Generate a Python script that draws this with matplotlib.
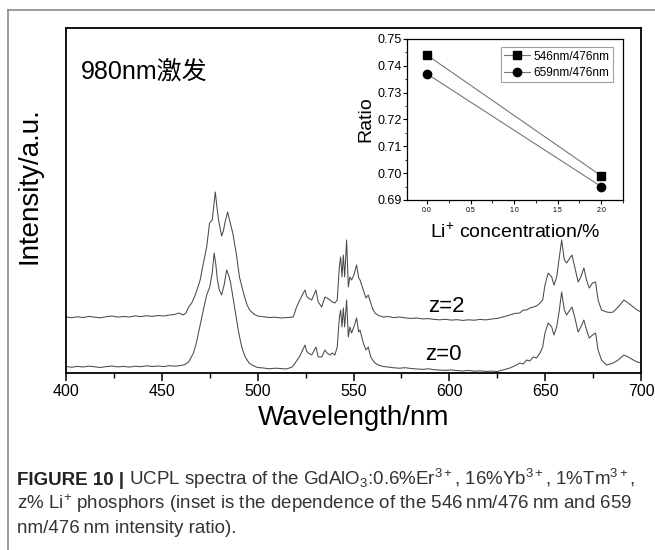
import numpy as np
import matplotlib
matplotlib.use("Agg")
import matplotlib.pyplot as plt
from matplotlib.lines import Line2D
from matplotlib.ticker import MultipleLocator, FormatStrFormatter

plt.rcParams['font.family'] = ['Liberation Sans', 'Noto Sans CJK SC', 'DejaVu Sans']
plt.rcParams['mathtext.fontset'] = 'custom'
plt.rcParams['mathtext.rm'] = 'Liberation Sans'
plt.rcParams['mathtext.it'] = 'Liberation Sans:italic'
plt.rcParams['mathtext.bf'] = 'Liberation Sans:bold'

# UCPL spectrum, z=0 (wavelength in nm, intensity in a.u.)
wl_z0 = [400, 403, 406, 409, 412, 415, 418, 421, 424, 427, 430, 433, 436, 439, 442, 445, 448,
         451, 454, 457, 460, 462, 464, 466.5, 468, 470, 472, 473.4, 475, 476.3, 477.3, 478.2,
         479, 480, 481.2, 482.5, 483.8, 485, 485.9, 487.6, 489.7, 491, 492, 493.5, 495.5,
         497.5, 500, 503, 506, 509, 512, 515, 518, 520.3, 522, 523, 524.7, 525.5, 526.4,
         528.2, 529.3, 530.4, 531.6, 533.4, 535.1, 536.2, 537.7, 539, 540.3, 541.5, 542.6,
         543.3, 544, 544.7, 545.4, 546.4, 547.3, 548.1, 549, 550.2, 551.6, 552.7, 553.4,
         554.3, 555.1, 556.5, 557.7, 559, 560, 561.2, 563, 565.5, 568, 571, 574, 577, 580,
         583, 586, 589, 592, 595, 598, 601, 604, 607, 610, 613, 616, 619, 622, 625, 628,
         631.6, 634, 636.8, 638.5, 640.3, 642, 643.8, 645.5, 647.3, 648.7, 649.9, 651.6,
         653.4, 654.6, 656, 657.4, 658.6, 660, 661.2, 662.9, 664, 665.4, 667.2, 668.6,
         670.2, 671.6, 673, 674.7, 676.3, 677.6, 679.4, 682, 684, 685.5, 688.1, 691.1,
         693.3, 696, 698, 700]
int_z0 = [6.5, 5.8, 6.6, 6.0, 6.9, 6.2, 5.5, 6.4, 7.0, 6.1, 6.6, 5.9, 6.8, 6.3, 7.2, 6.5, 7.0,
          6.4, 7.3, 6.8, 7.5, 8.5, 11, 20, 30, 48, 66, 78, 86, 100, 120, 108,
          93, 83, 78, 88, 103, 97, 90, 70, 45, 32, 24, 16, 10,
          7.5, 5.5, 5.0, 4.2, 4.8, 4.5, 4.0, 6, 12, 17, 21, 28, 22, 20,
          18, 22, 26, 16, 16, 23, 20, 18, 20, 18, 26, 55,
          63, 46, 65, 46, 73, 36, 46, 40, 46, 55, 41, 43,
          36, 30, 23, 26, 16, 13, 10, 8, 6.5, 6.0, 5.2, 4.8, 5.3, 4.5,
          4.0, 3.6, 4.2, 3.3, 3.0, 2.6, 3.1, 2.4, 2.0, 2.6, 1.8, 2.2, 1.6, 1.9, 1.5, 3.0,
          5, 7, 10, 9, 13, 12, 16, 15, 20, 26, 40, 50,
          46, 38, 46, 63, 81, 63, 58, 63, 66, 56, 41, 46,
          53, 43, 35, 38, 40, 23, 13, 8, 9, 10, 13, 18,
          16, 13, 11, 10]

# UCPL spectrum, z=2
wl_z2 = [400, 403, 406, 409, 412, 415, 418, 421, 424, 427, 430, 433, 436, 439, 442, 445, 448,
         451, 454, 456.5, 459, 461, 462.6, 464, 465.6, 467, 468.5, 470, 471.5, 473.4, 474.9,
         476.3, 477.9, 478.8, 479.6, 481.2, 482.1, 482.9, 484.3, 485.7, 487, 488.8, 490.5,
         491.8, 493.2, 494.5, 495.8, 498, 500, 503, 506, 509, 512, 515, 518.6, 520.3, 522,
         523.8, 524.7, 525.5, 526.4, 528.2, 529.3, 530.4, 531.6, 533.4, 535.1, 536.2, 537.7,
         539, 540.3, 541.5, 542.6, 543.3, 544, 544.7, 545.4, 546.4, 547.3, 548.1, 549,
         550.2, 551.6, 552.7, 553.4, 555.1, 556.5, 557.7, 559, 560, 561.2, 563, 565.5, 568,
         571, 574, 577, 580, 583, 586, 589, 592, 595, 598, 601, 604, 607, 610, 613, 616,
         619, 622, 625, 628, 631.6, 634, 636.8, 638.5, 640.3, 642, 643.8, 645.5, 647.3,
         648.7, 649.9, 651.6, 653.4, 654.6, 656, 657.4, 658.6, 660, 661.2, 662.9, 664,
         665.4, 667.2, 668.6, 670.2, 671.6, 673, 674.7, 676.3, 677.6, 679.4, 682, 684,
         685.5, 688.1, 691.1, 693.3, 696, 698, 700]
int_z2 = [56, 55.3, 56.2, 55.5, 56.6, 55.8, 55.2, 56.3, 57.0, 55.9, 56.5, 56.0, 57.1, 56.4, 57.3,
          56.6, 57.5, 57.0, 58.0, 58.5, 60, 58, 60, 66, 70, 76, 84, 93, 108, 126, 150,
          153, 181, 165, 153, 137, 142, 150, 161, 150, 140, 120, 96,
          86, 76, 68, 63, 59, 57, 56.2, 55.5, 55.8, 55.0, 55.4, 56, 66, 73,
          80, 83, 77, 75, 73, 78, 83, 71, 66, 76, 75, 73,
          71, 70, 73, 106, 116, 96, 118, 96, 133, 86, 96, 93,
          98, 108, 95, 93, 83, 75, 78, 70, 64, 60, 57.5, 56, 56.5,
          55.4, 56, 55.1, 54.6, 55.0, 54.1, 54.4, 53.6, 53.2, 53.7, 52.9, 53.3, 52.6, 53.2,
          52.8, 53.6, 53.1, 54.0, 54.6, 56, 58, 59.5, 60, 63, 63, 65, 66, 67, 70,
          73, 88, 100, 96, 88, 96, 116, 133, 113, 110, 115, 118,
          106, 91, 96, 105, 93, 85, 90, 91, 73, 63, 61, 60.5,
          61, 66, 73, 70, 66, 63, 61]

# inset: intensity ratios vs Li+ concentration
li_conc = [0.0, 2.0]
ratio_546 = [0.744, 0.699]
ratio_659 = [0.737, 0.695]

W, H = 655, 550
fig = plt.figure(figsize=(W / 100, H / 100), dpi=100)

# page frame
fig.add_artist(Line2D([8 / W, 1], [1 - 10 / H, 1 - 10 / H], color='#8a8a8a', lw=1.2))
fig.add_artist(Line2D([8 / W, 8 / W], [0, 1 - 10 / H], color='#8a8a8a', lw=1.2))

ax = fig.add_axes([66 / W, 1 - 373 / H, 575 / W, 345 / H])
ax.plot(wl_z2, int_z2, color='#4a4a4a', lw=0.75)
ax.plot(wl_z0, int_z0, color='#4a4a4a', lw=0.75)
ax.set_xlim(400, 700)
ax.set_ylim(0, 345)
ax.set_yticks([])
ax.xaxis.set_major_locator(MultipleLocator(50))
ax.xaxis.set_minor_locator(MultipleLocator(25))
ax.tick_params(axis='x', which='major', direction='out', length=6, width=1.1,
               labelsize=11.5, pad=2)
ax.tick_params(axis='x', which='minor', direction='out', length=3.5, width=1.0)
for sp in ax.spines.values():
    sp.set_linewidth(1.3)
ax.set_xlabel('Wavelength/nm', fontsize=20, labelpad=4)
fig.text(30 / W, 1 - 186 / H, 'Intensity/a.u.', rotation=90, fontsize=20,
         ha='center', va='center')

ax.text((81 - 66) / 575, 1 - (73 - 28) / 345, '980nm激发', transform=ax.transAxes,
        fontsize=18, ha='left', va='center')
ax.text(589, 373 - 307, 'z=2', fontsize=16, ha='left', va='center')
ax.text(587.5, 373 - 355, 'z=0', fontsize=16, ha='left', va='center')

# inset
ins = fig.add_axes([407 / W, 1 - 200 / H, 216 / W, 161 / H])
ins.plot(li_conc, ratio_546, color='#777777', lw=0.8, marker='s', ms=5.5,
         mfc='black', mec='black', label='546nm/476nm')
ins.plot(li_conc, ratio_659, color='#777777', lw=0.8, marker='o', ms=6,
         mfc='black', mec='black', label='659nm/476nm')
ins.set_xlim(-0.23, 2.25)
ins.set_ylim(0.69, 0.75)
ins.xaxis.set_major_locator(MultipleLocator(0.5))
ins.xaxis.set_minor_locator(MultipleLocator(0.25))
ins.yaxis.set_major_locator(MultipleLocator(0.01))
ins.yaxis.set_minor_locator(MultipleLocator(0.005))
ins.xaxis.set_major_formatter(FormatStrFormatter('%.1f'))
ins.yaxis.set_major_formatter(FormatStrFormatter('%.2f'))
ins.tick_params(axis='x', which='major', direction='out', length=3, width=0.8,
                labelsize=5, pad=2)
ins.tick_params(axis='y', which='major', direction='out', length=3, width=0.8,
                labelsize=9, pad=1)
ins.tick_params(which='minor', direction='out', length=1.8, width=0.6)
for sp in ins.spines.values():
    sp.set_linewidth(0.9)
ins.set_ylabel('Ratio', fontsize=14, labelpad=2)
ins.set_xlabel('Li$^{+}$ concentration/%', fontsize=14, labelpad=6)
leg = ins.legend(loc='upper right', bbox_to_anchor=(0.955, 0.95), fontsize=8.5,
                 frameon=True, fancybox=False, edgecolor='#888888', handlelength=2.2,
                 handletextpad=0.3, borderpad=0.3, labelspacing=0.35, borderaxespad=0)
leg.get_frame().set_linewidth(0.8)

# caption
cap_col = '#333333'
cap_fs = 13.5
x0 = 17 / W
t1 = fig.text(x0, 1 - 485 / H, 'FIGURE 10 |', fontsize=cap_fs, fontweight='bold',
              color='#222222', va='baseline')
fig.canvas.draw()
bb = t1.get_window_extent()
fig.text(bb.x1 / W, 1 - 485 / H,
         r' UCPL spectra of the GdAlO$_{\mathregular{3}}$:0.6%Er$^{\mathregular{3+}}$, '
         r'16%Yb$^{\mathregular{3+}}$, 1%Tm$^{\mathregular{3+}}$,',
         fontsize=cap_fs, color=cap_col, va='baseline')
fig.text(x0, 1 - 509 / H,
         'z% Li$^{\\mathregular{+}}$ phosphors (inset is the dependence of the 546\u2009nm/476\u2009nm and 659',
         fontsize=cap_fs, color=cap_col, va='baseline')
fig.text(x0, 1 - 533 / H, 'nm/476\u2009nm intensity ratio).',
         fontsize=cap_fs, color=cap_col, va='baseline')

fig.savefig('out.png', dpi=100)
